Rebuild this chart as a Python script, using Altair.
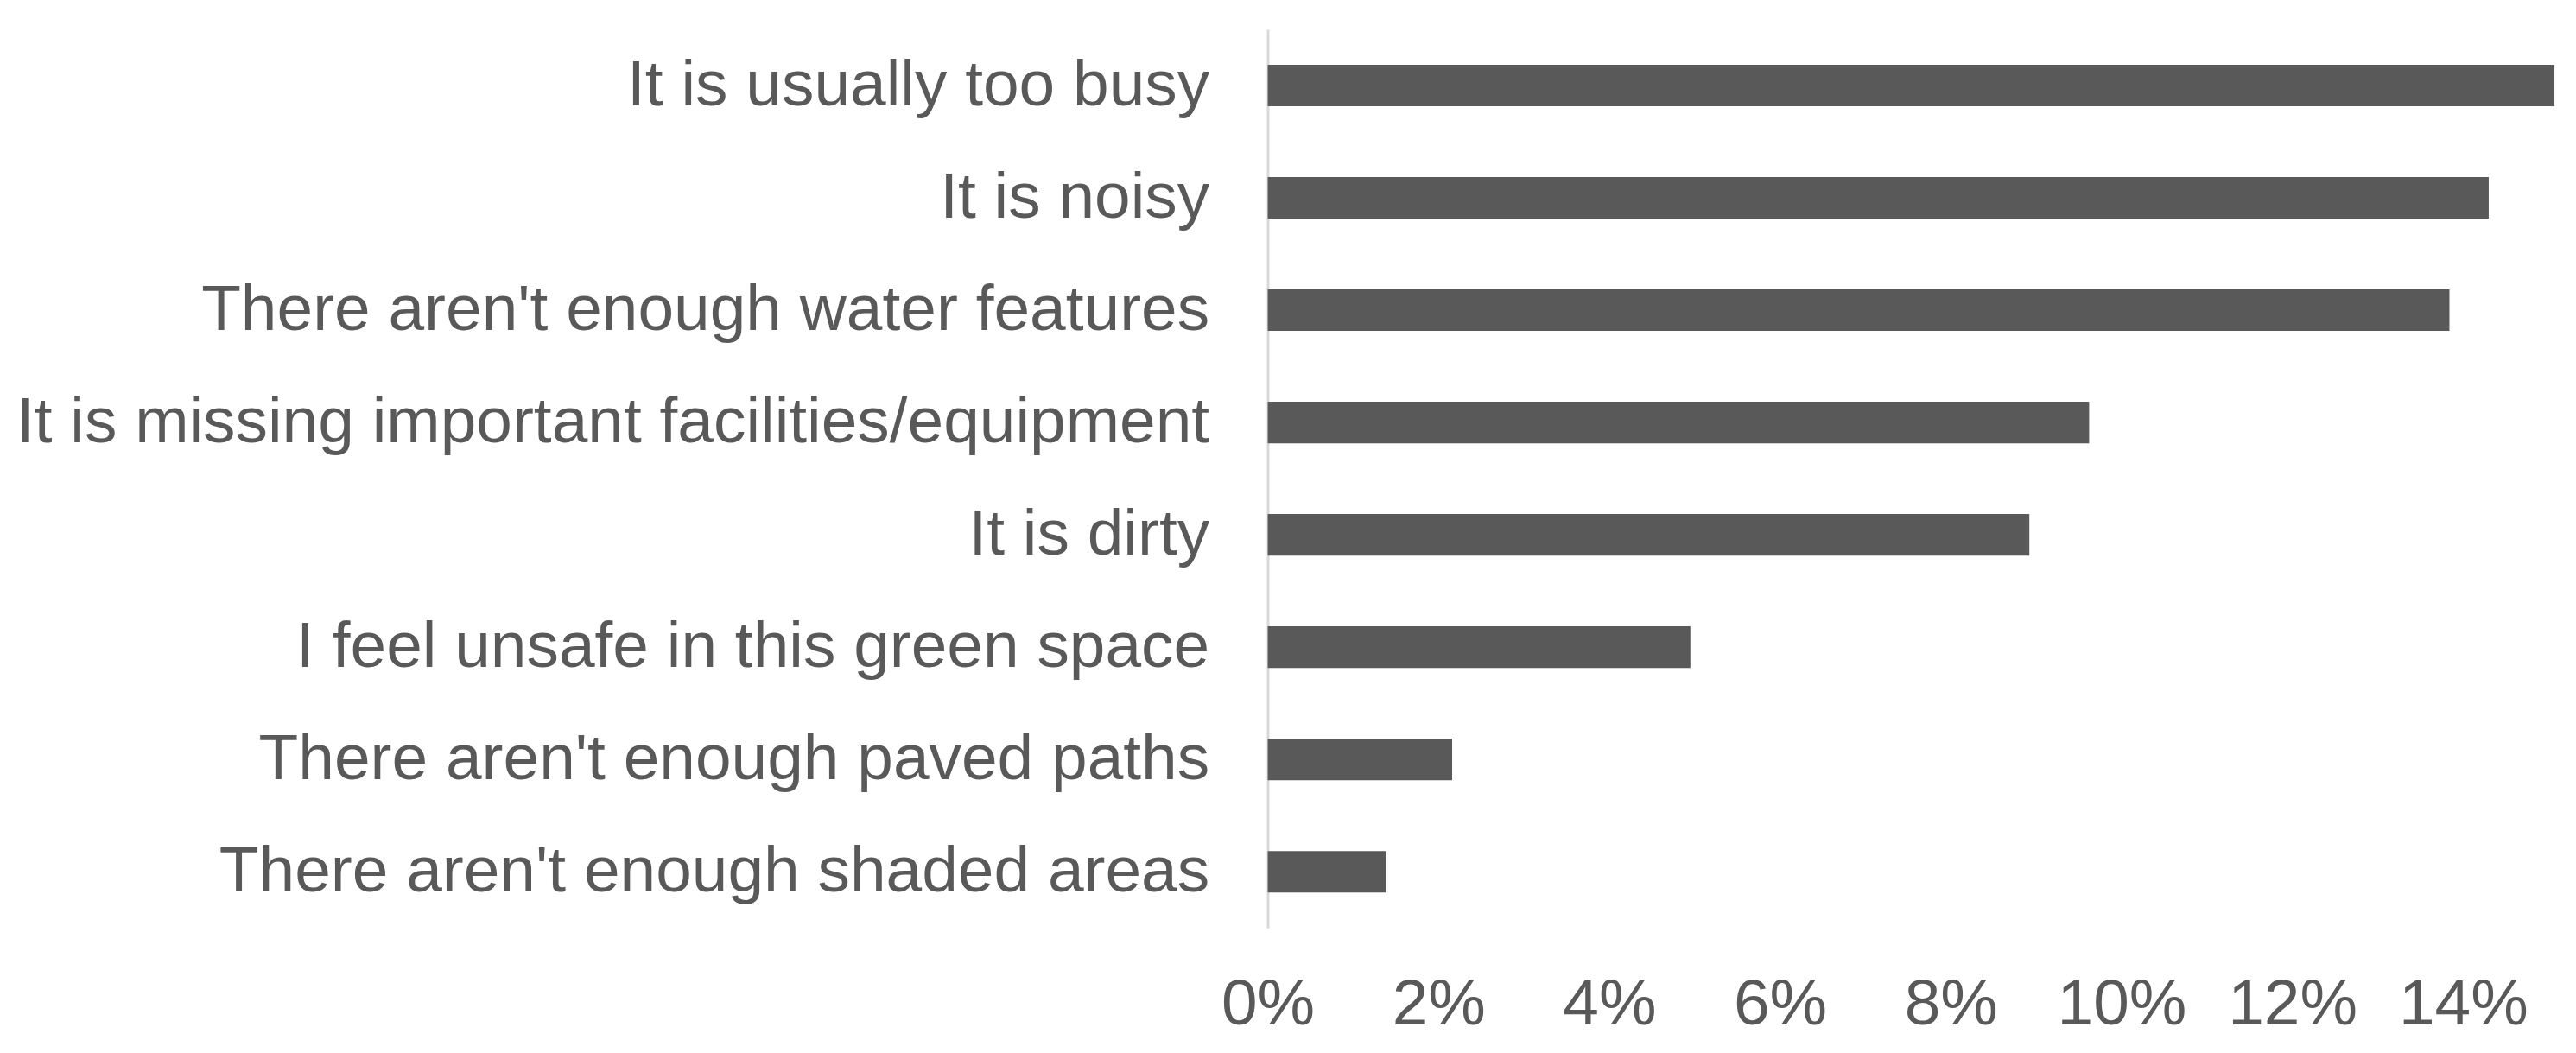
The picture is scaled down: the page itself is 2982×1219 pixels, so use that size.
import altair as alt
import pandas as pd

categories = [
    "It is usually too busy",
    "It is noisy",
    "There aren't enough water features",
    "It is missing important facilities/equipment",
    "It is dirty",
    "I feel unsafe in this green space",
    "There aren't enough paved paths",
    "There aren't enough shaded areas",
]
values = [0.1507, 0.1430, 0.1384, 0.0962, 0.0892, 0.0495, 0.0216, 0.0139]
tick_values = [0, 0.02, 0.04, 0.06, 0.08, 0.10, 0.12, 0.14]

df = pd.DataFrame({"reason": categories, "share": values})

FONT = "Liberation Sans"
TEXT = "#595959"

chart = (
    alt.Chart(df)
    .mark_bar(color="#595959")
    .encode(
        x=alt.X(
            "share:Q",
            scale=alt.Scale(domain=[0, 0.151], nice=False, zero=True),
            axis=alt.Axis(
                format=".0%",
                values=tick_values,
                title=None,
                grid=False,
                domain=False,
                ticks=False,
                labelFlush=False,
                labelPadding=52,
                labelFontSize=75,
                labelColor=TEXT,
                labelFont=FONT,
            ),
        ),
        y=alt.Y(
            "reason:N",
            sort=categories,
            scale=alt.Scale(paddingInner=0.63, paddingOuter=0.315),
            axis=alt.Axis(
                title=None,
                grid=False,
                domainColor="#d9d9d9",
                domainWidth=3,
                ticks=False,
                labelPadding=68,
                labelFontSize=75,
                labelLimit=3000,
                labelColor=TEXT,
                labelFont=FONT,
            ),
        ),
    )
    .properties(
        width=1495,
        height=1042,
        autosize=alt.AutoSizeParams(type="none"),
        padding={"left": 1462, "top": 25, "right": 14, "bottom": 136},
    )
    .configure_view(stroke=None)
)

chart.save("out.html", embed_options={"renderer": "svg", "actions": False})
